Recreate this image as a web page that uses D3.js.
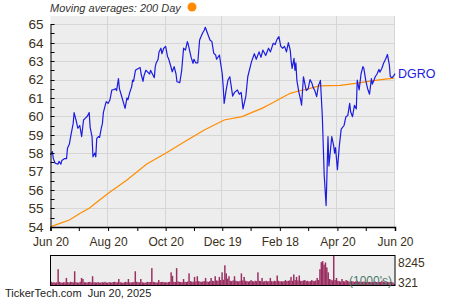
<!DOCTYPE html>
<html><head><meta charset="utf-8">
<script src="https://cdn.jsdelivr.net/npm/d3@7"></script>
<style>
html,body{margin:0;padding:0;background:#fff;}
svg{display:block;font-family:"Liberation Sans",Arial,sans-serif;}
</style></head>
<body>
<svg id="c" width="450" height="300"></svg>
<script>
const symbol = "DGRO";
const xTickDates = ["2024-06-20","2024-08-20","2024-10-20","2024-12-19","2025-02-18","2025-04-20","2025-06-20"];
const xTickLabels = ["Jun 20","Aug 20","Oct 20","Dec 19","Feb 18","Apr 20","Jun 20"];
const xMinorDates = ["2024-07-20","2024-09-20","2024-11-19","2025-01-18","2025-03-20","2025-05-20"];
const yTicks = [54,55,56,57,58,59,60,61,62,63,64,65];
const volumeLabels = ["8245","321"];

const price = [
["2024-06-20",57.9],["2024-06-22",58.08],["2024-06-23",57.7],["2024-06-25",57.45],["2024-06-28",57.4],["2024-06-29",57.55],
["2024-07-01",57.4],["2024-07-02",57.6],["2024-07-05",57.7],["2024-07-07",57.7],["2024-07-08",58.26],["2024-07-10",58.5],
["2024-07-12",59.07],["2024-07-14",59.6],["2024-07-15",60.2],["2024-07-17",59.8],["2024-07-19",59.35],["2024-07-21",59.5],
["2024-07-23",58.9],["2024-07-25",59.8],["2024-07-27",59.9],["2024-07-29",60.0],["2024-07-31",60.2],["2024-08-01",59.4],
["2024-08-03",58.9],["2024-08-04",57.8],["2024-08-06",58.0],["2024-08-07",57.8],["2024-08-08",58.8],["2024-08-10",58.9],
["2024-08-11",58.85],["2024-08-13",59.4],["2024-08-14",59.6],["2024-08-15",60.2],["2024-08-16",60.4],["2024-08-18",60.8],
["2024-08-20",60.7],["2024-08-22",60.9],["2024-08-24",61.43],["2024-08-26",61.45],["2024-08-28",61.5],["2024-08-29",61.4],
["2024-08-31",62.05],["2024-09-01",61.5],["2024-09-03",61.16],["2024-09-05",60.8],["2024-09-07",60.43],["2024-09-09",61.0],
["2024-09-10",60.9],["2024-09-12",61.3],["2024-09-14",61.6],["2024-09-15",61.97],["2024-09-16",61.9],["2024-09-18",62.5],
["2024-09-21",62.6],["2024-09-23",62.65],["2024-09-24",62.3],["2024-09-26",61.9],["2024-09-27",62.2],["2024-09-29",62.5],
["2024-10-01",62.4],["2024-10-03",62.3],["2024-10-04",62.5],["2024-10-06",62.3],["2024-10-08",62.1],["2024-10-09",62.7],
["2024-10-10",62.9],["2024-10-12",63.1],["2024-10-13",63.5],["2024-10-15",63.7],["2024-10-16",63.4],["2024-10-18",63.7],
["2024-10-20",63.8],["2024-10-22",63.24],["2024-10-23",63.15],["2024-10-25",62.8],["2024-10-27",62.42],["2024-10-29",62.7],
["2024-10-31",62.3],["2024-11-01",61.88],["2024-11-04",61.83],["2024-11-06",62.5],["2024-11-08",63.7],["2024-11-10",63.6],
["2024-11-12",64.06],["2024-11-13",63.9],["2024-11-16",63.2],["2024-11-18",62.88],["2024-11-19",63.1],["2024-11-21",62.9],
["2024-11-23",62.9],["2024-11-25",64.15],["2024-11-28",64.51],["2024-11-30",64.69],["2024-12-01",64.84],["2024-12-04",64.42],
["2024-12-06",64.15],["2024-12-08",64.06],["2024-12-10",63.42],["2024-12-12",63.33],["2024-12-13",63.1],["2024-12-16",63.33],
["2024-12-17",62.97],["2024-12-19",62.3],["2024-12-20",61.6],["2024-12-21",60.7],["2024-12-23",61.4],["2024-12-25",61.97],
["2024-12-27",62.15],["2024-12-30",61.1],["2025-01-01",61.3],["2025-01-04",61.43],["2025-01-06",61.2],["2025-01-08",61.3],
["2025-01-10",60.4],["2025-01-13",61.1],["2025-01-15",62.15],["2025-01-19",62.97],["2025-01-22",63.4],["2025-01-24",63.1],
["2025-01-27",63.5],["2025-01-29",63.2],["2025-01-31",63.6],["2025-02-03",63.3],["2025-02-06",63.7],["2025-02-08",63.5],
["2025-02-11",63.97],["2025-02-13",63.9],["2025-02-15",64.18],["2025-02-17",64.33],["2025-02-19",63.8],["2025-02-21",63.7],
["2025-02-23",63.8],["2025-02-25",63.5],["2025-02-27",64.0],["2025-03-01",63.6],["2025-03-02",63.0],["2025-03-03",62.6],
["2025-03-05",63.15],["2025-03-06",62.5],["2025-03-07",62.9],["2025-03-08",61.97],["2025-03-10",61.34],["2025-03-12",60.9],
["2025-03-13",60.6],["2025-03-15",62.15],["2025-03-16",61.9],["2025-03-18",61.4],["2025-03-20",61.5],["2025-03-22",62.0],
["2025-03-24",61.8],["2025-03-25",61.6],["2025-03-27",61.4],["2025-03-29",61.07],["2025-03-31",61.7],["2025-04-01",61.8],
["2025-04-02",61.95],["2025-04-04",60.0],["2025-04-06",56.8],["2025-04-08",55.15],["2025-04-10",58.9],["2025-04-11",57.3],
["2025-04-14",58.9],["2025-04-16",58.4],["2025-04-17",58.0],["2025-04-18",58.3],["2025-04-20",57.1],["2025-04-22",58.4],
["2025-04-24",59.3],["2025-04-27",59.5],["2025-04-29",59.98],["2025-05-01",60.05],["2025-05-03",60.7],["2025-05-04",60.25],
["2025-05-06",59.98],["2025-05-08",60.6],["2025-05-10",60.4],["2025-05-11",61.97],["2025-05-13",61.43],["2025-05-15",62.3],
["2025-05-17",62.7],["2025-05-18",62.6],["2025-05-20",61.95],["2025-05-22",61.5],["2025-05-24",61.2],["2025-05-26",62.05],
["2025-05-27",61.75],["2025-05-29",62.0],["2025-05-30",62.15],["2025-06-01",62.3],["2025-06-03",62.55],["2025-06-04",62.4],
["2025-06-06",62.6],["2025-06-08",62.9],["2025-06-10",63.1],["2025-06-12",63.36],["2025-06-14",62.8],["2025-06-15",62.15],
["2025-06-17",62.1],["2025-06-19",62.22],["2025-06-20",62.33]
];

const ma200 = [
["2024-06-20",54.0],["2024-06-30",54.18],["2024-07-10",54.36],["2024-07-21",54.72],["2024-07-31",55.0],["2024-08-11",55.45],
["2024-08-21",55.85],["2024-09-09",56.54],["2024-09-30",57.41],["2024-10-20",57.99],["2024-11-09",58.62],["2024-11-30",59.26],
["2024-12-21",59.8],["2025-01-09",59.98],["2025-01-19",60.2],["2025-01-30",60.43],["2025-02-09",60.7],["2025-02-19",60.98],
["2025-03-01",61.25],["2025-03-11",61.39],["2025-03-22",61.52],["2025-04-01",61.65],["2025-04-23",61.68],["2025-05-11",61.8],
["2025-06-01",61.97],["2025-06-19",62.07]
];

const volume = [
900,700,800,650,750,4500,900,700,650,800,
750,2000,800,700,900,850,750,3900,800,700,
650,900,2000,1700,800,750,700,850,900,700,
2500,800,750,700,850,650,700,800,750,900,
700,650,800,750,700,850,900,800,750,1700,
800,700,650,750,900,800,1700,750,700,800,
850,3900,900,800,750,1700,800,700,650,750,
900,800,850,4800,900,800,750,700,1400,800,
850,900,750,800,700,850,900,3600,2600,900,
850,4800,1000,900,850,800,1700,900,850,1000,
3300,1100,950,900,2300,1000,2500,1100,950,900,
1000,1100,2000,1000,900,1100,2000,1200,1100,2500,
1300,1200,2300,1400,3600,1500,5600,3300,1800,2500,
1200,1100,1300,2500,1200,1100,1000,1200,3300,1300,
2300,1200,1100,1000,1100,1400,1100,1000,1200,1100,
3600,1200,1100,2000,1000,1100,1200,1000,1100,2000,
1100,1000,1200,1100,2700,1200,1000,1100,1000,1100,
1400,1100,1200,1300,2300,1200,3000,1400,2300,1300,
2700,1200,1100,1300,1400,1100,1200,1000,1100,1400,
1200,1100,1300,2000,1400,4500,6500,6800,5800,6400,
5000,3600,1700,1500,1300,8245,1400,2000,1200,1100,
1000,1700,1100,1000,1400,1200,1000,900,1100,1000,
900,1000,1200,900,1000,800,900,1000,850,900,
800,900,850,800,900,1000,850,800,900,850,
1200,900,800,850,900,800,850,900,700,321
];

const parse = d3.timeParse("%Y-%m-%d");
const svg = d3.select("#c");
const L = 50.5, R = 395, T = 16, B = 227;
const textCol = "#3a3020";

const x = d3.scaleTime().domain([parse(xTickDates[0]), parse(xTickDates[xTickDates.length-1])]).range([L, R]);
const y = d3.scaleLinear().domain([54, 65]).range([226.7, 24.3]);

// plot background
svg.append("rect").attr("x", L).attr("y", T).attr("width", R - L).attr("height", B - T).attr("fill", "#ededed");

// grid
svg.append("g").selectAll("line").data(yTicks.slice(1)).join("line")
  .attr("x1", L).attr("x2", R).attr("y1", d => Math.round(y(d)) + 0.5).attr("y2", d => Math.round(y(d)) + 0.5)
  .attr("stroke", "#d6d6d6").attr("stroke-width", 1);
svg.append("g").selectAll("line").data(xTickDates.slice(1)).join("line")
  .attr("x1", d => Math.round(x(parse(d))) - 0.5).attr("x2", d => Math.round(x(parse(d))) - 0.5)
  .attr("y1", T).attr("y2", B).attr("stroke", "#d6d6d6").attr("stroke-width", 1);

// moving average
svg.append("path").datum(ma200)
  .attr("d", d3.line().x(d => x(parse(d[0]))).y(d => y(d[1])))
  .attr("fill", "none").attr("stroke", "#ff8c00").attr("stroke-width", 1.2);

// price line
svg.append("path").datum(price)
  .attr("d", d3.line().x(d => x(parse(d[0]))).y(d => y(d[1])))
  .attr("fill", "none").attr("stroke", "#1c1ce0").attr("stroke-width", 1.2).attr("stroke-linejoin", "round");

// y axis
const yAxis = svg.append("g").attr("transform", `translate(${L},0)`)
  .call(d3.axisLeft(y).tickValues(yTicks).tickSize(0).tickPadding(7).tickFormat(d3.format("d")));
yAxis.select(".domain").attr("stroke", "#000");
yAxis.selectAll("text").attr("font-size", 13.5).attr("fill", textCol).attr("font-family", "Liberation Sans, Arial, sans-serif");
// inward minor ticks
svg.append("g").selectAll("line").data(d3.range(54.5, 65.01, 0.5)).join("line")
  .attr("x1", L).attr("x2", L + 4).attr("y1", d => Math.round(y(d)) + 0.5).attr("y2", d => Math.round(y(d)) + 0.5)
  .attr("stroke", "#000");

// x axis
const xAxis = svg.append("g").attr("transform", `translate(0,${B})`)
  .call(d3.axisBottom(x).tickValues(xTickDates.map(parse)).tickSize(4).tickPadding(6)
    .tickFormat((d, i) => xTickLabels[i]));
xAxis.select(".domain").attr("stroke", "#000").attr("stroke-width", 1.5);
xAxis.selectAll("text").attr("font-size", 12).attr("fill", textCol).attr("font-family", "Liberation Sans, Arial, sans-serif");
svg.append("g").attr("transform", `translate(0,${B})`)
  .call(d3.axisBottom(x).tickValues(xMinorDates.map(parse)).tickSize(4).tickFormat(""))
  .select(".domain").remove();

// legend
svg.append("text").attr("x", 50).attr("y", 12).attr("font-size", 11).attr("font-style", "italic")
  .attr("fill", "#333").text("Moving averages: 200 Day");
svg.append("circle").attr("cx", 192).attr("cy", 7).attr("r", 4.5).attr("fill", "#ff8c00");

// symbol label
svg.append("text").attr("x", 398).attr("y", y(price[price.length-1][1]) + 5).attr("font-size", 12.5)
  .attr("fill", "#1c1ce0").text(symbol);

// volume panel
const VT = 256, VB = 285;
const vx = d3.scaleLinear().domain([0, volume.length]).range([L, R]);
const vy = d3.scaleLinear().domain([0, 8245]).range([VB, VT]);
svg.append("rect").attr("x", L).attr("y", VT).attr("width", R - L).attr("height", VB - VT).attr("fill", "#ededed");
svg.append("g").selectAll("rect").data(volume).join("rect")
  .attr("x", (d, i) => vx(i)).attr("width", vx(1) - vx(0) + 0.1)
  .attr("y", d => vy(d)).attr("height", d => VB - vy(d)).attr("fill", "#9b2f62");
svg.append("rect").attr("x", L).attr("y", VT - 0.5).attr("width", R - L).attr("height", VB - VT + 1)
  .attr("fill", "none").attr("stroke", "#000").attr("stroke-width", 1);
svg.append("text").attr("x", 398).attr("y", vy(8245) + 11).attr("font-size", 12).attr("fill", textCol).text(volumeLabels[0]);
svg.append("text").attr("x", 398).attr("y", vy(321) + 3).attr("font-size", 12).attr("fill", textCol).text(volumeLabels[1]);
svg.append("text").attr("x", 392).attr("y", 285).attr("text-anchor", "end").attr("font-size", 12)
  .attr("fill", "#4d7a6a").text("(1000's)");

// footer
svg.append("text").attr("x", 5).attr("y", 297).attr("font-size", 11).attr("fill", "#222")
  .text("TickerTech.com  Jun 20, 2025").attr("xml:space", "preserve").style("white-space", "pre");
</script>
</body></html>
